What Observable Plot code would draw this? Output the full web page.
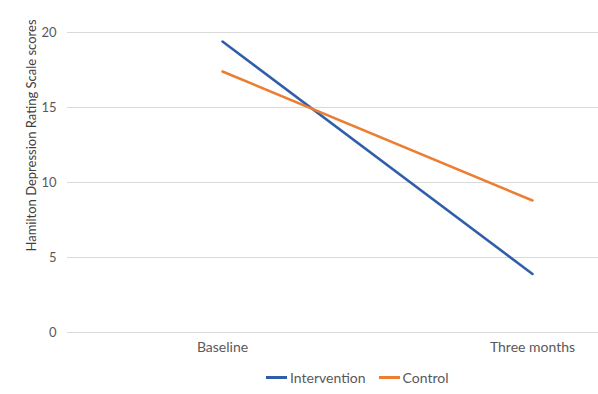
<!DOCTYPE html>
<html>
<head>
<meta charset="utf-8">
<script src="https://cdn.jsdelivr.net/npm/d3@7"></script>
<script src="https://cdn.jsdelivr.net/npm/@observablehq/plot@0.6"></script>
<style>
  body { margin: 0; background: #fff; font-family: Lato, "Open Sans", sans-serif; }
  #legend { display: flex; justify-content: flex-start; align-items: center; height: 34px; font-size: 14px; color: #595959; padding-left: 266px; box-sizing: border-box; }
  .item { display: flex; align-items: center; margin-right: 13px; }
  .sw { width: 21px; height: 3px; margin-right: 3px; }
</style>
</head>
<body>
<div id="chart"></div>
<script>
const categories = ["Baseline", "Three months"];
const intervention = [19.4, 3.9];
const control = [17.4, 8.8];
const yTicks = [0, 5, 10, 15, 20];
const seriesNames = ["Intervention", "Control"];
const seriesColors = ["#2F5EA8", "#ED7D31"];

const rows = [];
categories.forEach((c, i) => {
  rows.push({cat: c, value: intervention[i], series: seriesNames[0]});
  rows.push({cat: c, value: control[i], series: seriesNames[1]});
});

const chart = Plot.plot({
  width: 598,
  height: 360,
  marginLeft: 67,
  marginRight: 0,
  marginTop: 32,
  marginBottom: 28,
  style: {fontFamily: "Lato, 'Open Sans', sans-serif", fontSize: "14px", color: "#595959", background: "#fff"},
  x: {type: "point", domain: categories, range: [222, 532], padding: 0, label: null},
  y: {domain: [0, 20], label: null},
  color: {domain: seriesNames, range: seriesColors},
  marks: [
    Plot.ruleY(yTicks, {stroke: "#d9d9d9", strokeWidth: 1}),
    Plot.axisY({ticks: yTicks, tickSize: 0, tickPadding: 11, label: null, fontSize: 13}),
    Plot.axisX({tickSize: 0, tickPadding: 10, label: null, fontSize: 14}),
    Plot.line(rows, {x: "cat", y: "value", z: "series", stroke: "series", strokeWidth: 2.5}),
    Plot.text(["Hamilton Depression Rating Scale scores"], {frameAnchor: "left", textAnchor: "middle", dx: -36, dy: -47, rotate: -90, fill: "#404040", fontSize: 13})
  ]
});
document.getElementById("chart").appendChild(chart);

const legend = document.createElement("div");
legend.id = "legend";
seriesNames.forEach((n, i) => {
  const it = document.createElement("div");
  it.className = "item";
  const sw = document.createElement("div");
  sw.className = "sw";
  sw.style.background = seriesColors[i];
  const t = document.createElement("span");
  t.textContent = n;
  it.appendChild(sw); it.appendChild(t);
  legend.appendChild(it);
});
document.body.appendChild(legend);
</script>
</body>
</html>
